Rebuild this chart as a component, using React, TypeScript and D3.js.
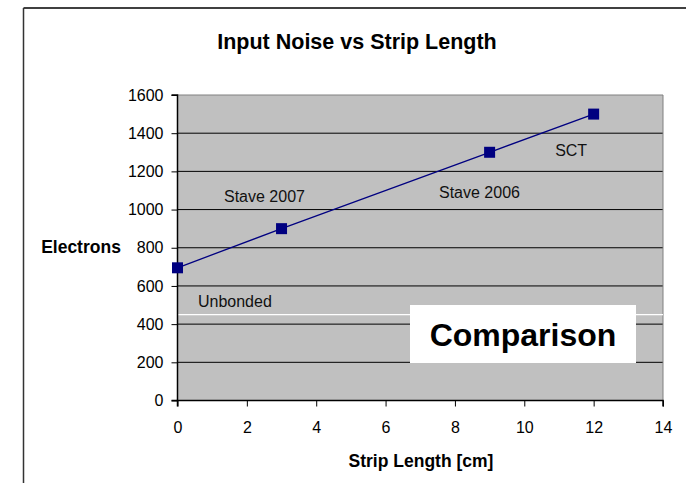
import React, { useRef, useEffect } from "react";
import * as d3 from "d3";

const stripLength = [0, 3, 9, 12];
const noise = [695, 900, 1300, 1500];
const xTicks = [0, 2, 4, 6, 8, 10, 12, 14];
const yTicks = [0, 200, 400, 600, 800, 1000, 1200, 1400, 1600];
const annotations = [
  { text: "Stave 2007", x: 1.34, y: 1040 },
  { text: "Stave 2006", x: 7.54, y: 1060 },
  { text: "SCT", x: 10.89, y: 1280 },
  { text: "Unbonded", x: 0.59, y: 490 },
];
const unbondedLevel = 450;

const width = 686;
const height = 483;
const plot = { left: 177.5, right: 663, top: 95, bottom: 400.5 };
const font = "Arial, 'Liberation Sans', sans-serif";

const xScale = d3.scaleLinear().domain([0, 14]).range([plot.left, plot.right]);
const yScale = d3.scaleLinear().domain([0, 1600]).range([plot.bottom, plot.top]);

export default function App() {
  const svgRef = useRef<SVGSVGElement>(null);

  useEffect(() => {
    if (!svgRef.current) return;
    const svg = d3.select(svgRef.current);
    svg.selectAll("*").remove();

    // outer frame (top + left edges only)
    svg.append("line").attr("x1", 23.5).attr("x2", width).attr("y1", 8).attr("y2", 8)
      .attr("stroke", "#000").attr("stroke-width", 1.5);
    svg.append("line").attr("x1", 23.5).attr("x2", 23.5).attr("y1", 8).attr("y2", height)
      .attr("stroke", "#333").attr("stroke-width", 1.5);

    svg.append("text").attr("x", 357).attr("y", 49).attr("text-anchor", "middle")
      .attr("font-family", font).attr("font-weight", "bold").attr("font-size", 21.5)
      .text("Input Noise vs Strip Length");

    svg.append("rect").attr("x", plot.left).attr("y", plot.top)
      .attr("width", plot.right - plot.left).attr("height", plot.bottom - plot.top)
      .attr("fill", "#c0c0c0");

    // gridlines
    svg.append("g").selectAll("line").data(yTicks.filter(d => d > 0 && d < 1600)).join("line")
      .attr("x1", plot.left).attr("x2", plot.right)
      .attr("y1", d => yScale(d)).attr("y2", d => yScale(d))
      .attr("stroke", "#000").attr("stroke-width", 1);

    // plot border: grey top/right
    svg.append("path")
      .attr("d", `M${plot.left},${plot.top}H${plot.right}V${plot.bottom}`)
      .attr("fill", "none").attr("stroke", "#808080").attr("stroke-width", 1);

    // unbonded level
    svg.append("line").attr("x1", plot.left).attr("x2", plot.right)
      .attr("y1", yScale(unbondedLevel)).attr("y2", yScale(unbondedLevel))
      .attr("stroke", "#fff").attr("stroke-width", 1.2);

    // axes
    const yAxis = svg.append("g").attr("transform", `translate(${plot.left},0)`)
      .call(d3.axisLeft(yScale).tickValues(yTicks).tickSize(6).tickPadding(8).tickFormat(d3.format("d")));
    const xAxis = svg.append("g").attr("transform", `translate(0,${plot.bottom})`)
      .call(d3.axisBottom(xScale).tickValues(xTicks).tickSize(6).tickPadding(15).tickFormat(d3.format("d")));
    [yAxis, xAxis].forEach(a => {
      a.select(".domain").attr("stroke", "#000").attr("stroke-width", 1.5);
      a.selectAll(".tick line").attr("stroke", "#000");
      a.selectAll("text").attr("font-family", font).attr("font-size", 16).attr("fill", "#000");
    });
    xAxis.select(".domain").attr("d", `M${plot.left},6V0H${plot.right}V6`);
    yAxis.select(".domain").attr("d", `M-6,${plot.bottom}H0V${plot.top}H-6`);

    svg.append("text").attr("x", 81).attr("y", 253).attr("text-anchor", "middle")
      .attr("font-family", font).attr("font-weight", "bold").attr("font-size", 17.5)
      .text("Electrons");
    svg.append("text").attr("x", 421).attr("y", 467).attr("text-anchor", "middle")
      .attr("font-family", font).attr("font-weight", "bold").attr("font-size", 17.5)
      .text("Strip Length [cm]");

    // annotations
    svg.append("g").selectAll("text").data(annotations).join("text")
      .attr("x", d => xScale(d.x)).attr("y", d => yScale(d.y))
      .attr("font-family", font).attr("font-size", 16).attr("fill", "#111")
      .text(d => d.text);

    // series
    const pts = stripLength.map((s, i) => [s, noise[i]] as [number, number]);
    const line = d3.line<[number, number]>().x(d => xScale(d[0])).y(d => yScale(d[1]));
    svg.append("path").attr("d", line(pts)).attr("fill", "none")
      .attr("stroke", "#000080").attr("stroke-width", 1.3);
    svg.append("g").selectAll("rect").data(pts).join("rect")
      .attr("x", d => xScale(d[0]) - 5.5).attr("y", d => yScale(d[1]) - 5.5)
      .attr("width", 11).attr("height", 11).attr("fill", "#000080");

    // comparison box
    svg.append("rect").attr("x", 410).attr("y", 305).attr("width", 226).attr("height", 58)
      .attr("fill", "#fff");
    svg.append("text").attr("x", 523).attr("y", 346).attr("text-anchor", "middle")
      .attr("font-family", font).attr("font-weight", "bold").attr("font-size", 32)
      .text("Comparison");
  }, []);

  return (
    <svg ref={svgRef} width={width} height={height}
      style={{ position: "absolute", left: 0, top: 0, background: "#fff" }} />
  );
}
